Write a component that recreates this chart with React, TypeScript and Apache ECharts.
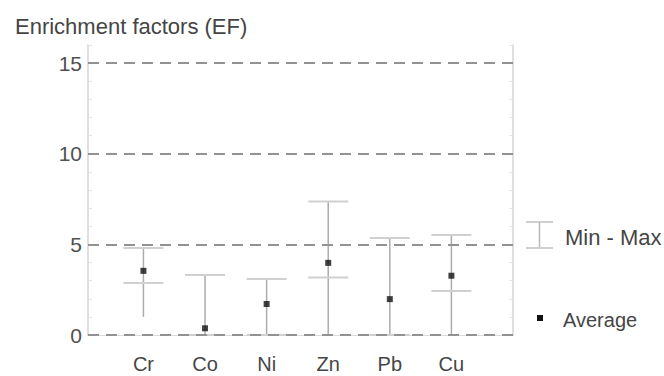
import React, { useEffect, useRef } from "react";
import * as echarts from "echarts";

const categories = ["Cr", "Co", "Ni", "Zn", "Pb", "Cu"];
const maxValues = [4.8, 3.31, 3.09, 7.36, 5.35, 5.52];
const minValues = [2.87, 0, 0, 3.17, 0, 2.43];
const whiskerBottom = [1.0, 0, 0, 0, 0, 0];
const averages = [3.54, 0.37, 1.71, 3.98, 1.98, 3.27];
const yTickLabels = [0, 5, 10, 15];
const titleText = "Enrichment factors (EF)";
const rangeName = "Min - Max";
const avgName = "Average";

const FONT = "'Liberation Sans', Arial, sans-serif";

export default function App() {
  const ref = useRef<HTMLDivElement>(null);
  useEffect(() => {
    if (!ref.current) return;
    const chart = echarts.init(ref.current, undefined, { renderer: "svg" });
    const positions = categories.map((_, i) => i + 1);
    const barData = positions.map((x, i) => [x, maxValues[i], minValues[i], whiskerBottom[i]]);
    const avgData = positions.map((x, i) => [x, averages[i]]);
    const minorTicks = [1, 2, 3, 4, 6, 7, 8, 9, 11, 12, 13, 14, 16];

    chart.setOption({
      animation: false,
      backgroundColor: "#ffffff",
      textStyle: { fontFamily: FONT },
      title: {
        text: titleText,
        left: 10,
        top: 10,
        textStyle: { fontSize: 22, fontWeight: "normal", color: "#454545", fontFamily: FONT },
      },
      grid: { left: 88, right: 151, top: 45, bottom: 41, containLabel: false, outerBoundsMode: "none" },
      xAxis: {
        type: "value",
        min: 0.1,
        max: 7,
        axisLine: { show: true, lineStyle: { color: "#dcdcdc", width: 1 } },
        axisTick: { show: false },
        splitLine: { show: false },
        axisLabel: {
          customValues: positions,
          formatter: (v: number) => categories[Math.round(v) - 1] ?? "",
          fontSize: 20,
          lineHeight: 20,
          color: "#464646",
          margin: 19,
          fontFamily: FONT,
        },
      },
      yAxis: [
        {
          type: "value",
          min: 0,
          max: 16,
          position: "left",
          axisLine: { show: true, lineStyle: { color: "#d4d4d4", width: 1.5 } },
          axisTick: {
            show: true,
            inside: true,
            length: 4,
            customValues: minorTicks,
            lineStyle: { color: "#e4e4e4" },
          },
          splitLine: { show: false },
          axisLabel: {
            customValues: yTickLabels,
            fontSize: 21,
            color: "#505050",
            margin: 6,
            fontFamily: FONT,
          },
        },
        {
          type: "value",
          min: 0,
          max: 16,
          position: "right",
          axisLine: { show: true, lineStyle: { color: "#d4d4d4", width: 1.5 } },
          axisTick: {
            show: true,
            inside: true,
            length: 4,
            customValues: minorTicks,
            lineStyle: { color: "#e4e4e4" },
          },
          splitLine: { show: false },
          axisLabel: { show: false },
        },
      ],
      series: [
        {
          name: "grid-lines",
          type: "line",
          data: [],
          silent: true,
          z: 1,
          markLine: {
            silent: true,
            symbol: "none",
            label: { show: false },
            lineStyle: { color: "#929292", width: 2, type: [11, 7] },
            data: yTickLabels.map((v) => ({ yAxis: v })),
          },
        },
        {
          name: rangeName,
          type: "custom",
          z: 2,
          data: barData,
          renderItem: (params: any, api: any) => {
            const x = api.value(0);
            const top = api.coord([x, api.value(1)]);
            const low = api.coord([x, api.value(2)]);
            const bottom = api.coord([x, api.value(3)]);
            const half = 20;
            return {
              type: "group",
              children: [
                {
                  type: "line",
                  shape: { x1: top[0], y1: top[1], x2: bottom[0], y2: bottom[1] },
                  style: { stroke: "#acacac", lineWidth: 1.5 },
                },
                {
                  type: "line",
                  shape: { x1: top[0] - half, y1: top[1], x2: top[0] + half, y2: top[1] },
                  style: { stroke: "#d0d0d0", lineWidth: 2 },
                },
                {
                  type: "line",
                  shape: { x1: low[0] - half, y1: low[1], x2: low[0] + half, y2: low[1] },
                  style: { stroke: "#d0d0d0", lineWidth: 2 },
                },
              ],
            };
          },
        },
        {
          name: avgName,
          type: "scatter",
          z: 3,
          symbol: "rect",
          symbolSize: 6,
          itemStyle: { color: "#111111" },
          data: avgData,
        },
      ],
      graphic: [
        { type: "line", shape: { x1: 526, y1: 222, x2: 553, y2: 222 }, style: { stroke: "#cfcfcf", lineWidth: 2 } },
        { type: "line", shape: { x1: 539.5, y1: 222, x2: 539.5, y2: 248 }, style: { stroke: "#b8b8b8", lineWidth: 1.5 } },
        { type: "line", shape: { x1: 526, y1: 248, x2: 553, y2: 248 }, style: { stroke: "#cfcfcf", lineWidth: 2 } },
        {
          type: "text",
          x: 565,
          y: 237,
          style: { text: rangeName, font: `22px ${FONT}`, fill: "#454545", verticalAlign: "middle" },
        },
        { type: "rect", shape: { x: 537, y: 315, width: 6, height: 6 }, style: { fill: "#111111" } },
        {
          type: "text",
          x: 563,
          y: 320,
          style: { text: avgName, font: `20px ${FONT}`, fill: "#454545", verticalAlign: "middle" },
        },
      ],
    });
    return () => chart.dispose();
  }, []);
  return (
    <div
      ref={ref}
      style={{ position: "fixed", left: 0, top: 0, width: 664, height: 376, background: "#fff" }}
    />
  );
}
